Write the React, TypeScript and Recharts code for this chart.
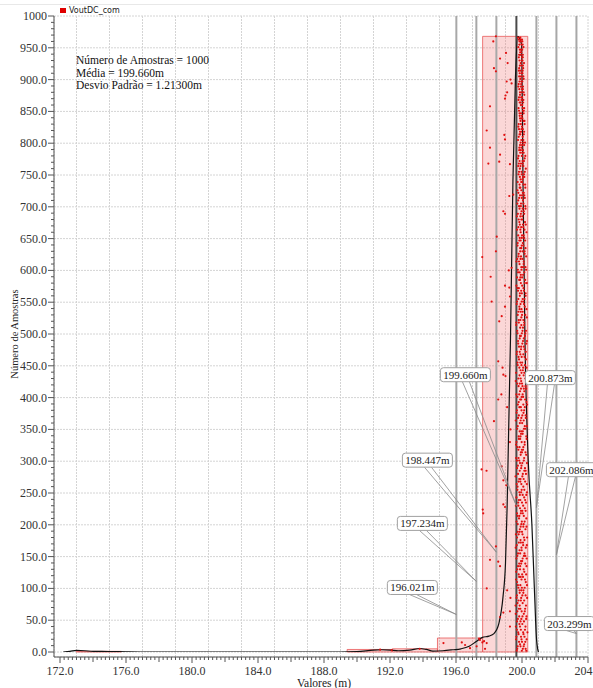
import React from "react";
import {
  ComposedChart,
  XAxis,
  YAxis,
  CartesianGrid,
  Line,
  Scatter,
  ReferenceArea,
  ReferenceLine,
  ReferenceDot,
} from "recharts";

// histogram bins (edges in m, counts)
const binEdges = [172.98, 175.717, 178.454, 181.191, 183.928, 186.665, 189.402, 192.139, 194.876, 197.613, 200.35];
const binCounts = [1, 0, 0, 0, 0, 0, 4, 5, 22, 968];

// mean +/- k*sigma markers
const sigmaValues = [196.021, 197.234, 198.447, 199.66, 200.873, 202.086, 203.299];
const sigmaLabels = ["196.021m", "197.234m", "198.447m", "199.660m", "200.873m", "202.086m", "203.299m"];
const calloutTipY = [59, 111, 157, 230, 227, 153, 29];

// density curve
const curveX = [172.2, 172.6, 173.0, 173.5, 174.0, 175.0, 176.0, 177.0, 189.0, 190.0, 191.0, 191.5, 192.0, 192.5, 193.2, 193.8, 194.2, 194.6, 195.2, 195.8, 196.3, 196.8, 197.2, 197.6, 198.0, 198.3, 198.6, 198.85, 199.0, 199.1, 199.3, 199.45, 199.6, 199.74, 199.98, 200.06, 200.18, 200.38, 200.6, 200.75, 200.88, 200.95, 201.0];
const curveY = [0, 1, 2.5, 2, 1, 0.8, 0.3, 0, 0, 0.5, 3, 3.5, 3, 2, 3, 5.5, 4, 1.5, 2, 3.5, 5, 9, 16, 23, 25, 29, 45, 87, 140, 230, 490, 740, 900, 968, 955, 740, 491, 300, 200, 100, 20, 5, 0];

// individual samples in the dense band near the mean: [index, values]
const bandRows: [number, number[]][] = [
  [5, [199.71, 200.05, 200.22]], [12, [199.88, 200.13]], [20, [199.64, 199.97, 200.28]], [28, [199.79, 200.09]],
  [35, [199.93, 200.18, 199.69]], [44, [200.02, 199.84]], [52, [199.75, 200.25, 199.96]], [60, [200.11, 199.62]],
  [68, [199.9, 200.19, 199.81]], [77, [200.04, 199.73]], [85, [199.95, 200.31, 199.67]], [93, [200.08, 199.86]],
  [101, [199.78, 200.16, 199.99]], [110, [200.23, 199.7]], [118, [199.92, 200.06, 199.83]], [126, [200.14, 199.65]],
  [135, [199.89, 200.27, 199.76]], [143, [200.01, 199.94]], [151, [199.72, 200.12, 200.2]], [160, [199.85, 199.98]],
  [168, [200.07, 199.68, 200.29]], [176, [199.91, 200.15]], [185, [199.8, 200.03, 199.63]], [193, [200.21, 199.87]],
  [201, [199.96, 200.1, 199.74]], [210, [200.26, 199.82]], [218, [199.93, 200.05, 199.7]], [226, [200.17, 199.88]],
  [235, [199.77, 200.0, 200.24]], [243, [199.66, 200.13]], [251, [199.95, 200.3, 199.84]], [260, [200.08, 199.73]],
  [268, [199.9, 200.19, 199.79]], [276, [200.02, 199.61]], [285, [199.86, 200.14, 200.22]], [293, [199.97, 199.75]],
  [301, [200.11, 199.83, 199.69]], [310, [200.25, 199.92]], [318, [199.78, 200.06, 199.99]], [326, [200.16, 199.64]],
  [335, [199.89, 200.28, 199.81]], [343, [200.04, 199.94]], [351, [199.71, 200.12, 200.2]], [360, [199.87, 200.01]],
  [368, [199.96, 200.23, 199.76]], [376, [200.09, 199.67]], [385, [199.84, 200.17, 199.93]], [393, [200.27, 199.8]],
  [401, [199.98, 200.07, 199.72]], [410, [200.14, 199.88]], [418, [199.79, 200.03, 200.21]], [426, [199.95, 199.62]],
  [435, [200.1, 199.85, 200.3]], [443, [199.91, 200.05]], [451, [199.74, 200.18, 199.97]], [460, [200.24, 199.82]],
  [468, [199.9, 200.08, 199.68]], [476, [200.15, 199.94]], [485, [199.77, 200.02, 200.26]], [493, [199.86, 200.11]],
  [501, [199.99, 200.2, 199.73]], [510, [200.06, 199.89]], [518, [199.81, 200.13, 199.65]], [526, [200.29, 199.96]],
  [535, [199.92, 200.04, 199.78]], [543, [200.17, 199.84]], [551, [199.7, 200.09, 199.98]], [560, [200.22, 199.87]],
  [568, [199.95, 200.12, 199.76]], [576, [200.01, 199.66]], [585, [199.88, 200.19, 199.83]], [593, [200.07, 199.93]],
  [601, [199.75, 200.25, 199.97]], [610, [200.1, 199.85]], [618, [199.91, 200.03, 199.71]], [626, [200.16, 199.8]],
  [635, [199.96, 200.21, 199.89]], [643, [200.05, 199.74]], [651, [199.86, 200.13, 199.99]], [660, [200.27, 199.92]],
  [668, [199.78, 200.08, 199.95]], [676, [200.18, 199.84]], [685, [199.9, 200.02, 199.69]], [693, [200.11, 199.97]],
  [701, [199.82, 200.2, 199.93]], [710, [200.06, 199.77]], [718, [199.88, 200.14, 200.0]], [726, [199.96, 199.73]],
  [735, [200.09, 199.85, 200.19]], [743, [199.91, 200.03]], [751, [199.79, 200.12, 199.98]], [760, [200.23, 199.87]],
  [768, [199.94, 200.05, 199.81]], [776, [200.16, 199.76]], [785, [199.89, 200.01, 200.1]], [793, [199.97, 199.84]],
  [801, [200.07, 199.92, 200.18]], [810, [199.8, 200.04]], [818, [199.95, 200.13, 199.88]], [826, [200.0, 199.78]],
  [835, [199.91, 200.09, 200.15]], [843, [199.86, 199.99]], [851, [200.06, 199.82, 200.11]], [860, [199.93, 200.02]],
  [868, [199.79, 200.08, 199.97]], [876, [200.14, 199.88]], [885, [199.84, 200.01, 200.05]], [893, [199.95, 199.8]],
  [901, [200.1, 199.9]], [910, [199.86, 200.03, 199.98]], [918, [200.07, 199.83]], [926, [199.92, 200.12]],
  [935, [199.81, 200.0, 200.05]], [943, [199.89, 199.96]], [951, [199.78, 200.09]], [960, [199.93, 199.85, 200.02]],
  [966, [199.76, 199.9]],
];

const bandRows2: [number, number[]][] = [
  [2, [199.99, 200.26, 199.68]], [9, [199.74, 200.1, 199.91]], [16, [200.2, 199.82, 200.0]], [24, [199.66, 199.94, 200.15]],
  [31, [200.07, 199.77, 200.33]], [40, [199.88, 200.21, 199.63]], [48, [200.12, 199.91, 199.7]], [56, [199.83, 200.03, 200.27]],
  [64, [199.72, 199.98, 200.17]], [73, [200.24, 199.86, 199.61]], [81, [199.93, 200.13, 199.79]], [89, [200.02, 199.69, 200.22]],
  [97, [199.85, 200.09, 199.96]], [105, [200.3, 199.75, 199.9]], [114, [199.97, 200.18, 199.64]], [122, [199.8, 200.01, 200.25]],
  [130, [200.1, 199.88, 199.71]], [139, [199.95, 200.2, 199.83]], [147, [200.04, 199.66, 200.28]], [155, [199.89, 200.15, 199.76]],
  [164, [200.23, 199.97, 199.62]], [172, [199.81, 200.06, 199.93]], [180, [199.7, 200.12, 200.31]], [189, [200.0, 199.86, 199.74]],
  [197, [199.92, 200.27, 200.08]], [205, [199.67, 199.99, 200.16]], [214, [200.11, 199.84, 199.73]], [222, [199.94, 200.22, 200.02]],
  [230, [199.78, 200.07, 199.63]], [239, [200.19, 199.9, 199.81]], [247, [199.87, 200.04, 200.26]], [255, [200.14, 199.72, 199.98]],
  [264, [199.96, 200.29, 199.68]], [272, [199.83, 200.1, 199.91]], [280, [200.24, 199.76, 200.05]], [289, [199.7, 199.95, 200.18]],
  [297, [200.02, 199.88, 200.3]], [305, [199.79, 200.13, 199.64]], [314, [199.93, 200.21, 200.0]], [322, [200.08, 199.85, 199.72]],
  [330, [199.98, 200.16, 199.67]], [339, [200.26, 199.91, 199.8]], [347, [199.86, 200.05, 199.96]], [355, [200.17, 199.74, 200.29]],
  [364, [199.92, 200.1, 199.62]], [372, [199.81, 200.02, 200.22]], [380, [200.13, 199.97, 199.69]], [389, [199.75, 200.08, 200.31]],
  [397, [199.89, 200.19, 199.95]], [405, [200.04, 199.83, 199.66]], [414, [199.94, 200.25, 200.11]], [422, [199.71, 200.0, 199.87]],
  [430, [200.2, 199.92, 199.78]], [439, [199.97, 200.14, 199.64]], [447, [199.84, 200.07, 200.27]], [455, [200.01, 199.9, 199.73]],
  [464, [199.79, 200.16, 199.98]], [472, [200.23, 199.86, 199.69]], [480, [199.95, 200.11, 199.82]], [489, [200.06, 199.76, 200.3]],
  [497, [199.88, 200.18, 199.93]], [505, [199.71, 200.03, 200.24]], [514, [200.13, 199.96, 199.65]], [522, [199.9, 200.08, 199.8]],
  [530, [200.0, 199.74, 200.2]], [539, [199.85, 200.27, 199.97]], [547, [200.12, 199.91, 199.68]], [555, [199.78, 200.04, 200.15]],
  [564, [199.99, 200.22, 199.87]], [572, [200.09, 199.81, 199.72]], [580, [199.93, 200.17, 200.29]], [589, [199.7, 200.01, 199.9]],
  [597, [200.14, 199.86, 199.76]], [605, [199.96, 200.06, 200.21]], [614, [199.82, 200.11, 199.66]], [622, [200.25, 199.94, 199.79]],
  [630, [199.89, 200.03, 200.16]], [639, [200.08, 199.73, 199.98]], [647, [199.92, 200.19, 199.84]], [655, [199.77, 200.0, 200.1]],
  [664, [200.15, 199.9, 199.7]], [672, [199.87, 200.06, 200.23]], [680, [200.02, 199.96, 199.8]], [689, [199.75, 200.13, 199.93]],
  [697, [200.21, 199.85, 200.04]], [705, [199.94, 200.09, 199.72]], [714, [199.83, 200.17, 199.99]], [722, [200.05, 199.78, 200.11]],
  [730, [199.9, 200.2, 199.86]], [739, [200.01, 199.95, 199.74]], [747, [199.87, 200.14, 200.06]], [755, [199.97, 199.82, 200.17]],
  [764, [200.08, 199.91, 199.77]], [772, [199.85, 200.03, 200.12]], [780, [199.99, 199.79, 200.2]], [789, [200.06, 199.93, 199.83]],
  [797, [199.88, 200.13, 200.0]], [805, [199.96, 199.76, 200.08]], [814, [200.11, 199.9, 199.85]], [822, [199.82, 200.05, 199.97]],
  [830, [200.16, 199.93, 199.8]], [839, [199.98, 200.02, 199.88]], [847, [199.85, 200.1, 199.94]], [855, [200.04, 199.79, 200.13]],
  [864, [199.91, 200.07, 199.86]], [872, [200.01, 199.95, 199.82]], [880, [199.88, 200.1, 199.99]], [889, [200.06, 199.93, 199.78]],
  [897, [199.97, 200.02, 199.85]], [905, [199.83, 200.08, 199.94]], [914, [200.04, 199.9, 199.81]], [922, [199.96, 200.06, 199.87]],
  [930, [199.85, 199.99, 200.03]], [939, [200.05, 199.92, 199.83]], [947, [199.94, 200.01, 199.87]], [955, [199.84, 200.04, 199.97]],
  [963, [199.92, 199.81, 200.0]],
];

// individual samples away from the band: [value, index]
const tailPoints: [number, number][] = [
  [198.42, 968], [198.26, 960], [199.03, 942], [198.67, 933], [199.13, 926], [198.3, 918], [198.42, 913],
  [199.07, 897], [199.37, 894], [199.3, 900], [199.1, 880], [198.97, 870], [199.0, 875], [198.06, 858],
  [197.86, 820], [198.93, 813], [198.97, 806], [198.06, 793], [198.67, 782], [198.62, 771], [197.96, 768],
  [199.27, 767], [199.47, 719], [199.23, 717], [198.87, 693], [198.97, 689], [198.47, 653], [198.42, 630],
  [197.59, 621], [199.37, 604], [199.2, 600], [198.1, 590], [198.97, 576], [199.23, 573], [199.27, 559],
  [198.16, 551], [198.97, 543], [198.77, 528], [198.62, 520], [198.56, 457], [198.82, 447], [198.87, 436],
  [199.0, 434], [198.75, 405], [198.56, 397], [199.1, 385], [198.3, 363], [199.3, 350], [199.27, 330],
  [198.77, 292], [197.55, 287], [197.85, 285], [198.87, 270], [199.05, 262], [198.87, 232], [198.97, 228],
  [197.62, 224], [197.65, 218], [198.42, 166], [198.06, 145], [198.56, 142], [198.67, 135], [197.86, 100],
  [199.1, 97], [199.3, 85], [199.27, 64], [198.87, 62], [198.67, 55], [199.27, 40], [197.45, 19],
  [197.6, 15], [197.25, 9], [195.24, 14], [196.35, 15], [196.55, 11], [196.85, 6], [197.4, 21],
  [197.7, 17], [197.76, 5], [197.86, 14], [191.4, 3.6], [192.1, 3], [193.8, 5],
];

const xTickLabels = [172, 176, 180, 184, 188, 192, 196, 200, 204];
const yTickLabels = [0, 50, 100, 150, 200, 250, 300, 350, 400, 450, 500, 550, 600, 650, 700, 750, 800, 850, 900, 950, 1000];

const statsLines = ["Número de Amostras = 1000", "Média = 199.660m", "Desvio Padrão = 1.21300m"];

const curveData = curveX.map((x, i) => ({ x, y: curveY[i] }));
const sampleData = [
  ...[...bandRows, ...bandRows2].flatMap(([y, xs]) => xs.map((x) => ({ x, y }))),
  ...tailPoints.map(([x, y]) => ({ x, y })),
];

// axis marks (minor ticks have no labels)
const xMinorTicks = Array.from({ length: 129 }, (_, i) => 172 + i * 0.25);
const yMinorTicks = Array.from({ length: 101 }, (_, i) => i * 10);
const xGridTicks = Array.from({ length: 33 }, (_, i) => 172 + i);

const calloutOffsets = [
  [-44, -27], [-54, -58], [-69, -92], [-51, -131], [14, -130], [15, -85], [-7, -10],
];

const serif = "'Liberation Serif', 'Times New Roman', serif";
const axisColor = "#555";

const XTick = (props: any) => {
  const { x, y, payload } = props;
  const v = payload.value;
  const isLabel = xTickLabels.some((t) => Math.abs(t - v) < 1e-6);
  const isMid = Math.abs(v / 2 - Math.round(v / 2)) < 1e-6;
  const len = isLabel ? 6 : isMid ? 5 : 3;
  return (
    <g>
      <line x1={x} x2={x} y1={y} y2={y + len} stroke={axisColor} strokeWidth={1} />
      {isLabel && (
        <text x={x} y={y + 18} textAnchor="middle" fontSize={12} fontFamily={serif} fill="#333">
          {v.toFixed(1)}
        </text>
      )}
    </g>
  );
};

const YTick = (props: any) => {
  const { x, y, payload } = props;
  const v = payload.value;
  const isLabel = yTickLabels.includes(v);
  const len = isLabel ? 6 : 3;
  return (
    <g>
      <line x1={x - len} x2={x} y1={y} y2={y} stroke={axisColor} strokeWidth={1} />
      {isLabel && (
        <text x={x - 7} y={y + 4} textAnchor="end" fontSize={12} fontFamily={serif} fill="#333">
          {v === 1000 ? "1000" : v.toFixed(1)}
        </text>
      )}
    </g>
  );
};

const Callout = ({ cx, cy, text, dx, dy }: any) => {
  const w = 50;
  const h = 14;
  const mx = cx + dx;
  const bx = mx - w / 2;
  const by = cy + dy - h / 2;
  return (
    <g>
      <path
        d={`M${mx - 3},${by + h} L${cx},${cy} L${mx + 4},${by + h}`}
        fill="none"
        stroke="#8a8a8a"
        strokeWidth={0.8}
      />
      <rect x={bx} y={by} width={w} height={h} rx={3} fill="#fff" stroke="#a0a0a0" strokeWidth={1} />
      <text x={mx} y={by + 11} textAnchor="middle" fontSize={11} fontFamily={serif} fill="#222">
        {text}
      </text>
    </g>
  );
};

const Dot = (props: any) => <circle cx={props.cx} cy={props.cy} r={1.1} fill="#e01010" />;

export default function App() {
  return (
    <div style={{ position: "absolute", left: 0, top: 0, width: 593, height: 688, background: "#fff", overflow: "hidden" }}>
      <div style={{ position: "absolute", left: 0, top: 4, width: 593, borderTop: "1px solid #e8e8e8" }} />
      <ComposedChart width={593} height={688} margin={{ top: 16, right: 5, bottom: 0, left: 0 }}>
        <XAxis
          xAxisId="grid"
          type="number"
          dataKey="x"
          domain={[172, 204]}
          ticks={xGridTicks}
          padding={{ left: 6, right: 0 }}
          allowDataOverflow
          hide
        />
        <YAxis
          yAxisId="grid"
          type="number"
          dataKey="y"
          domain={[0, 1000]}
          ticks={yTickLabels}
          padding={{ top: 0, bottom: 5 }}
          allowDataOverflow
          hide
        />
        <CartesianGrid xAxisId="grid" yAxisId="grid" stroke="#d4d4d4" strokeDasharray="2 1" />
        <XAxis
          type="number"
          dataKey="x"
          domain={[172, 204]}
          ticks={xMinorTicks}
          interval={0}
          padding={{ left: 6, right: 0 }}
          height={31}
          tickSize={0}
          tickMargin={0}
          tickLine={false}
          axisLine={{ stroke: axisColor }}
          tick={<XTick />}
          allowDataOverflow
        />
        <YAxis
          type="number"
          dataKey="y"
          domain={[0, 1000]}
          ticks={yMinorTicks}
          interval={0}
          padding={{ top: 0, bottom: 5 }}
          width={54}
          tickSize={0}
          tickMargin={0}
          tickLine={false}
          axisLine={{ stroke: axisColor }}
          tick={<YTick />}
          allowDataOverflow
        />
        {sigmaValues.map((v, i) => (
          <ReferenceLine
            key={"s" + i}
            x={v}
            stroke={i === 3 ? "#4a4a4a" : "#a8a8a8"}
            strokeWidth={2}
          />
        ))}
        {binCounts.map((c, i) =>
          c > 0 ? (
            <ReferenceArea
              key={"b" + i}
              x1={binEdges[i]}
              x2={binEdges[i + 1]}
              y1={0}
              y2={c}
              fill="#f07070"
              fillOpacity={0.28}
              stroke="#e85a5a"
              strokeOpacity={0.8}
              strokeWidth={1}
            />
          ) : null
        )}
        <Line
          data={curveData}
          dataKey="y"
          type="monotone"
          stroke="#111"
          strokeWidth={1.2}
          dot={false}
          isAnimationActive={false}
        />
        <Scatter data={sampleData} dataKey="y" shape={<Dot />} isAnimationActive={false} />
        {sigmaValues.map((v, i) => (
          <ReferenceDot
            key={"c" + i}
            x={v}
            y={calloutTipY[i]}
            r={0}
            ifOverflow="visible"
            shape={(p: any) => (
              <Callout cx={p.cx} cy={p.cy} text={sigmaLabels[i]} dx={calloutOffsets[i][0]} dy={calloutOffsets[i][1]} />
            )}
          />
        ))}
      </ComposedChart>
      <div style={{ position: "absolute", left: 60, top: 6, display: "flex", alignItems: "center", fontFamily: "'DejaVu Sans', sans-serif", fontSize: 8, color: "#222" }}>
        <span style={{ display: "inline-block", width: 6, height: 5, background: "#e00000", marginRight: 3 }} />
        VoutDC_com
      </div>
      <div style={{ position: "absolute", left: 76, top: 54, fontFamily: serif, fontSize: 11.5, lineHeight: "12.5px", color: "#111" }}>
        {statsLines.map((s) => (
          <div key={s}>{s}</div>
        ))}
      </div>
      <div
        style={{
          position: "absolute",
          left: 14,
          top: 334,
          transform: "translate(-50%, -50%) rotate(-90deg)",
          whiteSpace: "nowrap",
          fontFamily: serif,
          fontSize: 10.5,
          color: "#222",
        }}
      >
        Número de Amostras
      </div>
      <div
        style={{
          position: "absolute",
          left: 324,
          top: 683,
          transform: "translate(-50%, -50%)",
          whiteSpace: "nowrap",
          fontFamily: serif,
          fontSize: 11.5,
          lineHeight: "11px",
          color: "#222",
        }}
      >
        Valores (m)
      </div>
    </div>
  );
}
